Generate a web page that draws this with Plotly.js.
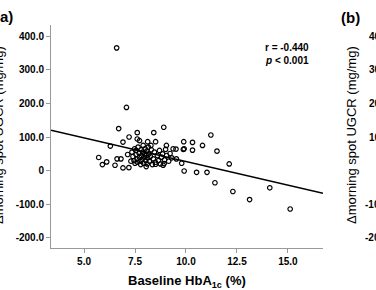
<!DOCTYPE html>
<html>
<head>
<meta charset="utf-8">
<script src="https://cdn.plot.ly/plotly-3.0.1.min.js"></script>
<style>html,body{margin:0;padding:0;background:#fff;}#chart{width:376px;height:290px;}</style>
</head>
<body>
<div id="chart"></div>
<script>
// Baseline HbA1c (%) and change in morning spot UGCR (mg/mg)
const hba1c = [
  6.60, 7.08, 6.70, 7.21, 7.61, 6.91, 8.42, 8.91, 7.61, 7.72, 8.12, 8.51, 9.89, 6.29,
  5.72, 5.90, 6.11, 6.52, 6.62, 6.81, 6.91, 7.20, 7.14, 9.04, 9.91, 9.87, 9.79, 9.00,
  10.32, 9.91, 10.32, 10.81, 11.22, 11.52, 12.12, 10.52, 11.03, 11.42, 12.30, 13.12, 14.11, 15.11,
  9.51, 9.22, 9.53, 8.93, 8.51, 9.37, 8.88,
  7.35, 7.40, 7.45, 7.50, 7.55, 7.55, 7.60, 7.62, 7.65, 7.70, 7.72, 7.75, 7.78, 7.80, 7.82,
  7.85, 7.88, 7.90, 7.92, 7.95, 7.98, 8.00, 8.02, 8.05, 8.08, 8.10, 8.12, 8.15, 8.18, 8.20,
  8.25, 8.30, 8.35, 8.40, 8.45, 8.50, 8.60, 8.65, 8.70, 8.75, 8.80, 8.85, 8.95, 9.05, 9.15,
  9.30, 7.30, 7.48, 8.05, 8.28
];
const dUGCR = [
  365, 188, 125, 100, 113, 85, 113, 129, 94, 89, 86, 86, 86, 73,
  39, 18, 26, 16, 35, 35, 8, 9, 48, 75, -1, 63, 22, 63,
  84, 65, 61, 75, 106, 58, 20, -5, -5, -36, -62, -86, -51, -114,
  64, 51, 35, 21, 19, 65, 16,
  55, 42, 30, 22, 60, 48, 35, 25, 70, 52, 40, 28, 18, 62, 45,
  33, 55, 75, 22, 40, 50, 65, 30, 45, 58, 20, 38, 70, 50, 28,
  42, 62, 18, 35, 55, 25, 45, 30, 60, 20, 40, 50, 32, 45, 28,
  38, 28, 65, 12, 75
];
// Regression line end points
const fitX = [3.38, 16.72];
const fitY = [120, -67];

const xTicks = [5.0, 7.5, 10.0, 12.5, 15.0];
const xTickText = ['5.0', '7.5', '10.0', '12.5', '15.0'];
const yTicks = [400, 300, 200, 100, 0, -100, -200];
const yTickText = ['400.0', '300.0', '200.0', '100.0', '0', '-100.0', '-200.0'];

const FONT = 'Arial, "Liberation Sans", sans-serif';
const yTitle = '\u0394morning spot UGCR (mg/mg)';

// helpers for pixel -> paper (plot area: x 51..323, y 25..248)
const px = v => (v - 51) / 272;
const py = v => (248 - v) / 223;

const annotations = [
  {text: '<b>r = -0.440</b>', x: px(263), y: py(48), xref: 'paper', yref: 'paper', xanchor: 'left', yanchor: 'middle', showarrow: false, font: {family: FONT, size: 10, color: '#000'}},
  {text: '<b><i>p</i> < 0.001</b>', x: px(263), y: py(60), xref: 'paper', yref: 'paper', xanchor: 'left', yanchor: 'middle', showarrow: false, font: {family: FONT, size: 10, color: '#000'}},
  {text: '<b>(a)</b>', x: px(4), y: py(17), xref: 'paper', yref: 'paper', xanchor: 'center', yanchor: 'middle', showarrow: false, font: {family: FONT, size: 15, color: '#000'}},
  {text: '<b>(b)</b>', x: px(350), y: py(18), xref: 'paper', yref: 'paper', xanchor: 'center', yanchor: 'middle', showarrow: false, font: {family: FONT, size: 15, color: '#000'}},
  {text: yTitle, x: px(-2), y: py(135), xref: 'paper', yref: 'paper', xanchor: 'center', yanchor: 'middle', textangle: -90, showarrow: false, font: {family: FONT, size: 13, color: '#000'}},
  {text: yTitle, x: px(351), y: py(135), xref: 'paper', yref: 'paper', xanchor: 'center', yanchor: 'middle', textangle: -90, showarrow: false, font: {family: FONT, size: 13, color: '#000'}},
  {text: '<b>Baseline HbA<sub>1c</sub> (%)</b>', x: px(187), y: py(281), xref: 'paper', yref: 'paper', xanchor: 'center', yanchor: 'middle', showarrow: false, font: {family: FONT, size: 13, color: '#000'}}
];
// partially visible tick labels of the neighbouring panel (b)
yTicks.forEach((v, i) => {
  annotations.push({text: '<b>' + yTickText[i] + '</b>', x: px(396), y: v, xref: 'paper', yref: 'y', xanchor: 'right', yanchor: 'middle', showarrow: false, font: {family: FONT, size: 10, color: '#000'}});
});

const data = [
  {x: hba1c, y: dUGCR, type: 'scatter', mode: 'markers', marker: {symbol: 'circle-open', size: 4.5, color: '#000', line: {width: 1.2, color: '#000'}}, hoverinfo: 'x+y'},
  {x: fitX, y: fitY, type: 'scatter', mode: 'lines', line: {color: '#000', width: 1.5}, hoverinfo: 'skip'}
];

const layout = {
  width: 376, height: 290,
  margin: {l: 51, r: 53, t: 25, b: 42, pad: 0},
  paper_bgcolor: '#fff', plot_bgcolor: '#fff',
  showlegend: false,
  font: {family: FONT, color: '#000'},
  xaxis: {
    range: [3.38, 16.72], showgrid: false, zeroline: false,
    showline: true, linecolor: '#999', linewidth: 1,
    ticks: 'outside', ticklen: 4, tickcolor: '#999', tickwidth: 1,
    tickmode: 'array', tickvals: xTicks, ticktext: xTickText.map(t => '<b>' + t + '</b>'),
    tickfont: {family: FONT, size: 10, color: '#000'}
  },
  yaxis: {
    range: [-230, 433], showgrid: false, zeroline: false,
    showline: true, linecolor: '#999', linewidth: 1,
    ticks: 'outside', ticklen: 4, tickcolor: '#999', tickwidth: 1,
    tickmode: 'array', tickvals: yTicks, ticktext: yTickText.map(t => '<b>' + t + '</b>'),
    tickfont: {family: FONT, size: 10, color: '#000'}
  },
  annotations: annotations
};

Plotly.newPlot('chart', data, layout, {displayModeBar: false, staticPlot: true});
</script>
</body>
</html>
